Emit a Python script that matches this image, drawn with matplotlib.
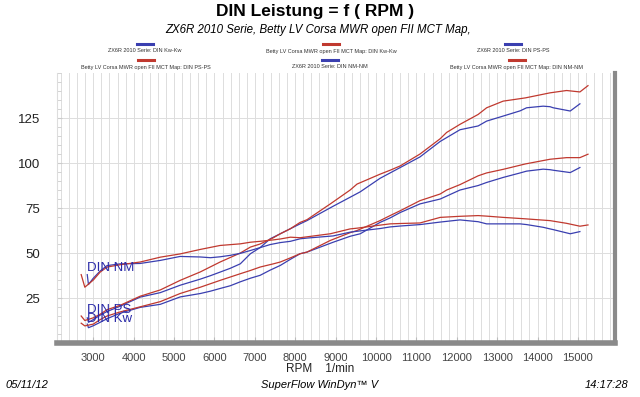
import numpy as np
import matplotlib
matplotlib.use("Agg")
import matplotlib.pyplot as plt
from matplotlib.ticker import MultipleLocator

plt.rcParams['font.family'] = ['Liberation Sans', 'DejaVu Sans']

# Werte
# Serie (blau)
rpm_ser = [2850, 2880, 3000, 3170, 3340, 3670, 4160, 4660, 5150, 5650, 5900, 6140, 6390,
           6640, 6890, 7130, 7380, 7630, 7880, 8120, 8290, 8940, 9360, 9610, 10100, 10350,
           10600, 11090, 11590, 12080, 12530, 12740, 13150, 13570, 13730, 14140, 14310,
           14390, 14810, 15050]
ps_ser = [14.0, 11.5, 13.0, 15.5, 17.5, 20.5, 25.5, 28.0, 32.1, 35.5, 37.4, 39.4, 41.5,
          44.0, 49.6, 53.0, 57.9, 60.7, 63.5, 66.2, 68.0, 76.0, 81.0, 84.0, 91.5, 94.5,
          97.5, 103.4, 112.0, 118.5, 120.6, 123.3, 126.1, 129.0, 130.7, 131.6, 131.3,
          130.7, 128.9, 132.9]
kw_ser = [10.5, 8.5, 9.6, 11.5, 13.5, 16.6, 19.8, 21.5, 25.6, 27.5, 28.8, 30.3, 31.8,
          34.0, 36.0, 37.6, 40.5, 43.1, 46.5, 49.6, 50.5, 56.0, 59.3, 60.7, 67.0, 69.5,
          72.5, 77.3, 80.0, 85.0, 87.5, 89.2, 92.0, 94.5, 95.5, 96.6, 96.3, 96.0, 94.7,
          97.5]
nm_ser = [38.0, 32.5, 36.0, 40.0, 43.0, 44.0, 44.2, 45.9, 48.1, 47.8, 47.4, 47.9, 48.7,
          49.8, 51.4, 53.0, 54.7, 55.8, 56.5, 57.9, 58.3, 59.5, 61.6, 62.3, 63.6, 64.5,
          65.0, 65.8, 67.2, 68.4, 67.4, 66.2, 66.2, 66.2, 65.8, 64.3, 63.4, 63.0, 60.7,
          61.9]

# Betty LV Corsa MWR open FII MCT Map (rot)
rpm_mod = [2700, 2790, 3000, 3170, 3340, 3670, 4160, 4660, 5150, 5650, 6140, 6640, 6890,
           7130, 7460, 7630, 7880, 8120, 8290, 8870, 9360, 9530, 10100, 10350, 10600,
           11090, 11590, 11750, 12080, 12530, 12740, 13150, 13700, 14310, 14720, 15050,
           15250]
ps_mod = [15.0, 12.5, 14.0, 16.0, 18.5, 21.0, 26.0, 29.5, 34.8, 39.5, 45.0, 50.0, 53.3,
          55.0, 58.5, 60.7, 63.5, 67.0, 68.5, 77.3, 85.0, 88.3, 93.8, 96.0, 98.4, 105.0,
          113.5, 117.0, 121.5, 127.0, 130.7, 134.4, 136.2, 139.0, 140.3, 139.5, 143.0]
kw_mod = [11.0, 9.5, 10.5, 13.0, 15.0, 17.3, 20.1, 23.0, 27.5, 31.0, 34.8, 38.5, 40.3,
          42.2, 44.0, 45.0, 47.3, 49.6, 50.5, 57.0, 61.3, 62.5, 68.0, 70.8, 73.5, 79.1,
          82.8, 85.0, 88.0, 92.9, 94.5, 96.5, 99.5, 102.1, 103.0, 103.0, 104.9]
nm_mod = [38.0, 31.0, 35.0, 39.4, 42.2, 43.5, 45.0, 47.7, 49.5, 52.0, 54.2, 55.1, 56.0,
          56.5, 57.3, 57.8, 58.8, 58.5, 59.0, 60.7, 63.4, 63.8, 65.5, 66.2, 66.4, 66.7,
          69.8, 70.0, 70.4, 70.8, 70.5, 69.8, 69.0, 68.0, 66.5, 64.9, 65.6]

xticks = [3000, 4000, 5000, 6000, 7000, 8000, 9000, 10000, 11000, 12000, 13000, 14000, 15000]
yticks = [25, 50, 75, 100, 125]

blau = '#3a3fb0'
rot = '#c0392f'

fig = plt.figure(figsize=(6.4, 3.97), dpi=100)
ax = fig.add_axes([0.089, 0.136, 0.872, 0.680])

ax.plot(rpm_ser, kw_ser, color=blau, lw=0.9)
ax.plot(rpm_mod, kw_mod, color=rot, lw=0.9)
ax.plot(rpm_ser, ps_ser, color=blau, lw=0.9)
ax.plot(rpm_mod, ps_mod, color=rot, lw=0.9)
ax.plot(rpm_ser, nm_ser, color=blau, lw=0.9)
ax.plot(rpm_mod, nm_mod, color=rot, lw=0.9)

ax.set_xlim(2100, 15920)
ax.set_ylim(0, 150)
ax.set_xticks(xticks)
ax.set_yticks(yticks)
ax.xaxis.set_minor_locator(MultipleLocator(200))
ax.yaxis.set_minor_locator(MultipleLocator(5))
ax.grid(which='major', axis='y', color='#dddddd', lw=0.7)
ax.grid(which='minor', axis='x', color='#dddddd', lw=0.7)
ax.grid(which='major', axis='x', color='#dddddd', lw=0.7)
ax.tick_params(axis='x', which='major', direction='in', length=4, color='#bbbbbb',
               labelsize=8, labelcolor='#444444', pad=7)
ax.tick_params(axis='x', which='minor', length=0)
ax.tick_params(axis='y', which='both', direction='in', color='#cccccc', labelsize=9.5,
               labelcolor='#222222', pad=12)
ax.tick_params(axis='y', which='minor', length=3)

ax.spines['top'].set_visible(False)
ax.spines['left'].set_color('#dddddd')
ax.spines['left'].set_linewidth(0.8)
ax.spines['bottom'].set_color('#8a8a8a')
ax.spines['bottom'].set_linewidth(4)
ax.spines['right'].set_color('#8a8a8a')
ax.spines['right'].set_linewidth(3)

# Kurvenbeschriftungen
ax.text(2840, 41.5, 'DIN NM', color='#2a2aa8', fontsize=9.5, va='center')
ax.text(2840, 18.2, 'DIN PS', color='#2a2aa8', fontsize=9.5, va='center')
ax.text(2840, 13.6, 'DIN Kw', color='#2a2aa8', fontsize=9.5, va='center')

# Titel
fig.text(0.492, 0.97, 'DIN Leistung = f ( RPM )', ha='center', va='center',
         fontsize=12.5, fontweight='bold')
fig.text(0.497, 0.925, 'ZX6R 2010 Serie, Betty LV Corsa MWR open FII MCT Map,',
         ha='center', va='center', fontsize=8.3, style='italic')

# Legende
eintraege = [
    ('ZX6R 2010 Serie: DIN Kw-Kw', blau, 145, 0),
    ('Betty LV Corsa MWR open FII MCT Map: DIN Kw-Kw', rot, 331, 0),
    ('ZX6R 2010 Serie: DIN PS-PS', blau, 513, 0),
    ('Betty LV Corsa MWR open FII MCT Map: DIN PS-PS', rot, 146, 1),
    ('ZX6R 2010 Serie: DIN NM-NM', blau, 330, 1),
    ('Betty LV Corsa MWR open FII MCT Map: DIN NM-NM', rot, 517, 1),
]
for txt, col, xp, zeile in eintraege:
    y_lin = 44 + zeile * 16
    y_txt = 51 + zeile * 16
    fig.add_artist(plt.Line2D([(xp - 8) / 640, (xp + 8) / 640],
                              [1 - y_lin / 397, 1 - y_lin / 397], color=col, lw=2.2))
    fig.text(xp / 640, 1 - y_txt / 397, txt, ha='center', va='center', fontsize=4.0,
             color='#333333')

fig.text(0.5, 1 - 369 / 397, 'RPM    1/min', ha='center', va='center', fontsize=8.5,
         color='#222222')
fig.text(0.008, 1 - 385 / 397, '05/11/12', ha='left', va='center', fontsize=8,
         style='italic')
fig.text(0.5, 1 - 385 / 397, 'SuperFlow WinDyn\u2122 V', ha='center', va='center',
         fontsize=8, style='italic')
fig.text(0.982, 1 - 385 / 397, '14:17:28', ha='right', va='center', fontsize=8,
         style='italic')

fig.savefig('out.png', dpi=100)
